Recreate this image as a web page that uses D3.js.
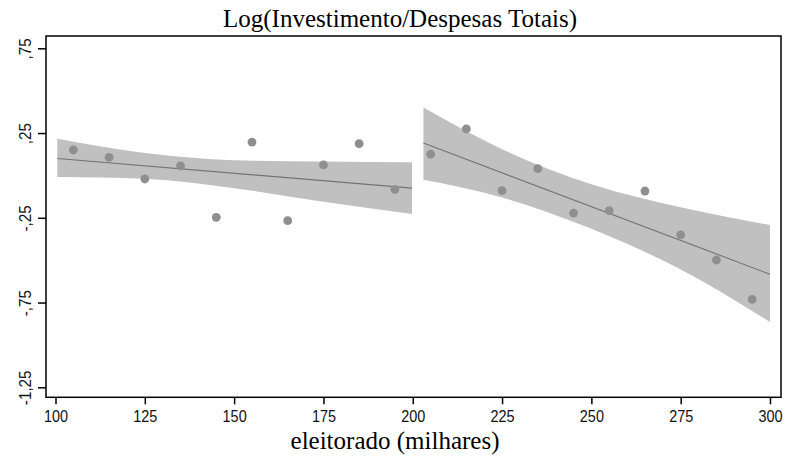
<!DOCTYPE html>
<html>
<head>
<meta charset="utf-8">
<script src="https://cdn.jsdelivr.net/npm/d3@7/dist/d3.min.js"></script>
<style>
  body { margin: 0; background: #fff; }
  svg { display: block; }
</style>
</head>
<body>
<svg id="chart"></svg>
<script>
// bin midpoints (milhares) and bin means
const leftX = [105, 115, 125, 135, 145, 155, 165, 175, 185, 195];
const leftY = [0.150, 0.107, -0.021, 0.056, -0.247, 0.197, -0.267, 0.062, 0.187, -0.082];
const rightX = [205, 215, 225, 235, 245, 255, 265, 275, 285, 295];
const rightY = [0.125, 0.274, -0.090, 0.040, -0.222, -0.208, -0.092, -0.351, -0.499, -0.731];

// linear fit on each side
const leftFitX = [100.5, 199.8];
const leftFitY = [0.100, -0.075];
const rightFitX = [203, 300];
const rightFitY = [0.191, -0.583];

// confidence bands
const leftCiX = [100.5, 125, 150, 175, 199.8];
const leftCiHi = [0.216, 0.132, 0.090, 0.082, 0.078];
const leftCiLo = [-0.010, -0.020, -0.075, -0.155, -0.228];
const rightCiX = [203, 225, 250, 275, 300];
const rightCiHi = [0.401, 0.155, -0.052, -0.188, -0.293];
const rightCiLo = [-0.026, -0.130, -0.315, -0.555, -0.865];

const xTicks = [100, 125, 150, 175, 200, 225, 250, 275, 300];
const yTicks = [0.75, 0.25, -0.25, -0.75, -1.25];
const yTickLabels = [',75', ',25', '-,25', '-,75', '-1,25'];

const title = 'Log(Investimento/Despesas Totais)';
const xTitle = 'eleitorado (milhares)';

const width = 790;
const height = 464;
const frame = { left: 46, top: 36, right: 781, bottom: 397.3 };

const svg = d3.select('#chart')
  .attr('width', width)
  .attr('height', height);

const x = d3.scaleLinear().domain([100, 300]).range([55.5, 770]);
const y = d3.scaleLinear().domain([-1.25, 0.75]).range([387.3, 48.3]);

const tickFont = '"Liberation Sans", Arial, sans-serif';
const serif = '"Liberation Serif", "Times New Roman", serif';

// bands
const area = d3.area()
  .x(d => x(d.x))
  .y0(d => y(d.lo))
  .y1(d => y(d.hi))
  .curve(d3.curveMonotoneX);

const bands = [
  leftCiX.map((v, i) => ({ x: v, lo: leftCiLo[i], hi: leftCiHi[i] })),
  rightCiX.map((v, i) => ({ x: v, lo: rightCiLo[i], hi: rightCiHi[i] }))
];
svg.selectAll('.band')
  .data(bands)
  .enter()
  .append('path')
  .attr('class', 'band')
  .attr('d', area)
  .attr('fill', '#c0c0c0');

// fit lines
const line = d3.line().x(d => x(d.x)).y(d => y(d.y));
const fits = [
  leftFitX.map((v, i) => ({ x: v, y: leftFitY[i] })),
  rightFitX.map((v, i) => ({ x: v, y: rightFitY[i] }))
];
svg.selectAll('.fit')
  .data(fits)
  .enter()
  .append('path')
  .attr('class', 'fit')
  .attr('d', line)
  .attr('fill', 'none')
  .attr('stroke', '#737373')
  .attr('stroke-width', 1.1);

// points
const pts = leftX.map((v, i) => ({ x: v, y: leftY[i] }))
  .concat(rightX.map((v, i) => ({ x: v, y: rightY[i] })));
svg.selectAll('.dot')
  .data(pts)
  .enter()
  .append('circle')
  .attr('class', 'dot')
  .attr('cx', d => x(d.x))
  .attr('cy', d => y(d.y))
  .attr('r', 4.4)
  .attr('fill', '#8f8f8f');

// frame
svg.append('rect')
  .attr('x', frame.left)
  .attr('y', frame.top)
  .attr('width', frame.right - frame.left)
  .attr('height', frame.bottom - frame.top)
  .attr('fill', 'none')
  .attr('stroke', '#000')
  .attr('stroke-width', 1.5);

// x axis
const gx = svg.append('g')
  .attr('transform', `translate(0,${frame.bottom})`)
  .call(d3.axisBottom(x).tickValues(xTicks).tickSize(7).tickPadding(6).tickFormat(d3.format('d')));
gx.select('.domain').remove();
gx.selectAll('line').attr('stroke', '#000').attr('stroke-width', 1.5);
gx.selectAll('text')
  .attr('transform', 'scale(0.85,1)')
  .attr('font-family', tickFont)
  .attr('font-size', 17)
  .attr('fill', '#111');

// y axis
const gy = svg.append('g')
  .attr('transform', `translate(${frame.left},0)`)
  .call(d3.axisLeft(y).tickValues(yTicks).tickSize(8).tickFormat((d, i) => yTickLabels[i]));
gy.select('.domain').remove();
gy.selectAll('line').attr('stroke', '#000').attr('stroke-width', 1.5);
gy.selectAll('text')
  .attr('x', 0)
  .attr('y', 0)
  .attr('dy', 0)
  .attr('transform', 'translate(-15.5,0) rotate(-90) scale(0.9,1)')
  .attr('text-anchor', 'middle')
  .attr('font-family', tickFont)
  .attr('font-size', 17)
  .attr('fill', '#111');

// titles
svg.append('text')
  .attr('x', 400)
  .attr('y', 27)
  .attr('text-anchor', 'middle')
  .attr('font-family', serif)
  .attr('font-size', 25)
  .attr('fill', '#000')
  .text(title);

svg.append('text')
  .attr('x', 395)
  .attr('y', 449)
  .attr('text-anchor', 'middle')
  .attr('font-family', serif)
  .attr('font-size', 25)
  .attr('fill', '#000')
  .text(xTitle);
</script>
</body>
</html>
